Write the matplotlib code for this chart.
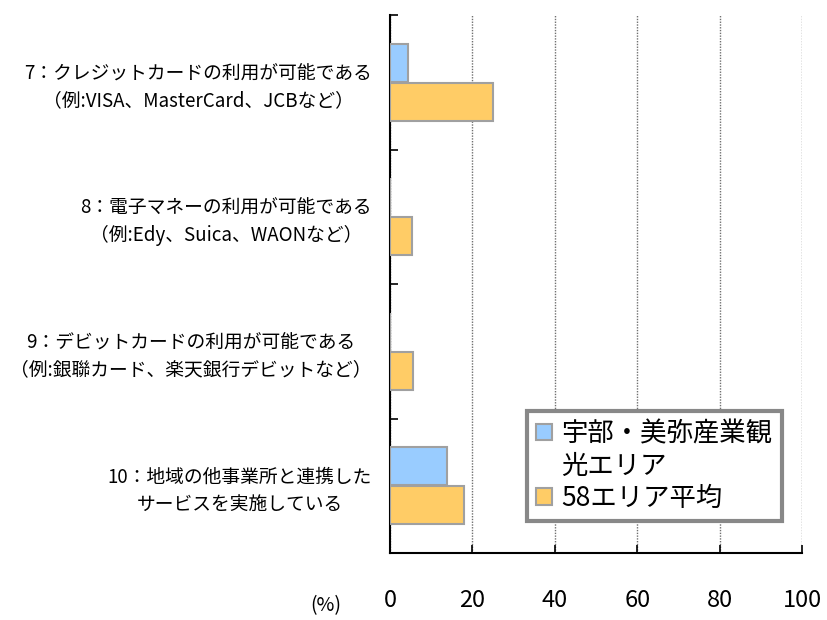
import matplotlib
matplotlib.use("Agg")
import matplotlib.pyplot as plt
from matplotlib.patches import Patch
import numpy as np

plt.rcParams['font.family'] = ['Noto Sans CJK JP', 'DejaVu Sans']

categories = [
    "7：クレジットカードの利用が可能である\n（例:VISA、MasterCard、JCBなど）",
    "8：電子マネーの利用が可能である\n（例:Edy、Suica、WAONなど）",
    "9：デビットカードの利用が可能である\n（例:銀聯カード、楽天銀行デビットなど）",
    "10：地域の他事業所と連携した\nサービスを実施している",
]
series_names = ["宇部・美弥産業観光エリア", "58エリア平均"]
legend_lines = ["宇部・美弥産業観", "光エリア", "58エリア平均"]
area_values = [4.4, 0.0, 0.0, 13.8]
avg_values = [25.0, 5.3, 5.6, 18.0]
xticks = [0, 20, 40, 60, 80, 100]
colors = ["#99CCFF", "#FFCC66"]

W, H = 827, 620
fig = plt.figure(figsize=(W / 100, H / 100), dpi=100)
ax = fig.add_axes([390 / W, 1 - 553 / H, (802 - 390) / W, (553 - 15) / H])

y = np.arange(len(categories))
h = 0.283
off = 0.145
ax.barh(y - off, area_values, height=h, color=colors[0], edgecolor="#A0A0A0",
        linewidth=1.5, label=series_names[0], zorder=3)
ax.barh(y + off, avg_values, height=h, color=colors[1], edgecolor="#A0A0A0",
        linewidth=1.5, label=series_names[1], zorder=3)

ax.set_xlim(0, 100)
ax.set_ylim(len(categories) - 0.5, -0.5)

ax.set_xticks(xticks)
ax.set_xticklabels([str(v) for v in xticks], fontsize=17)
ax.tick_params(axis='x', direction='in', length=6, width=1.2, pad=26, colors='black')
ax.grid(axis='x', linestyle=(0, (1, 1)), color='#707070', linewidth=1.0, zorder=0)

ax.set_yticks(y)
ax.set_yticklabels(categories, fontsize=13.5)
for t in ax.get_yticklabels():
    t.set_multialignment('center')
    t.set_linespacing(1.35)
ax.tick_params(axis='y', which='major', length=0, pad=13)
ax.set_yticks(np.arange(-0.5, len(categories)), minor=True)
ax.tick_params(axis='y', which='minor', direction='in', length=6, width=1.2)

for s in ['top', 'right']:
    ax.spines[s].set_visible(False)
ax.spines['left'].set_linewidth(1.5)
ax.spines['bottom'].set_linewidth(1.5)

fig.text(326 / W, 1 - 606 / H, "(%)", fontsize=14, ha='center', va='center')

handles = [Patch(facecolor=colors[0], edgecolor="#A0A0A0", linewidth=1.5),
           Patch(facecolor='none', edgecolor='none'),
           Patch(facecolor=colors[1], edgecolor="#A0A0A0", linewidth=1.5)]
leg = ax.legend(handles, legend_lines, loc='upper left',
                bbox_to_anchor=(527 / W, 1 - 411 / H),
                bbox_transform=fig.transFigure, fontsize=19, frameon=True,
                fancybox=False, edgecolor='#888888', framealpha=1,
                handlelength=0.6, handleheight=0.6, handletextpad=0.35,
                borderpad=0.35, labelspacing=0.2, borderaxespad=0)
leg.get_frame().set_linewidth(3)

fig.savefig("out.png", dpi=100)
